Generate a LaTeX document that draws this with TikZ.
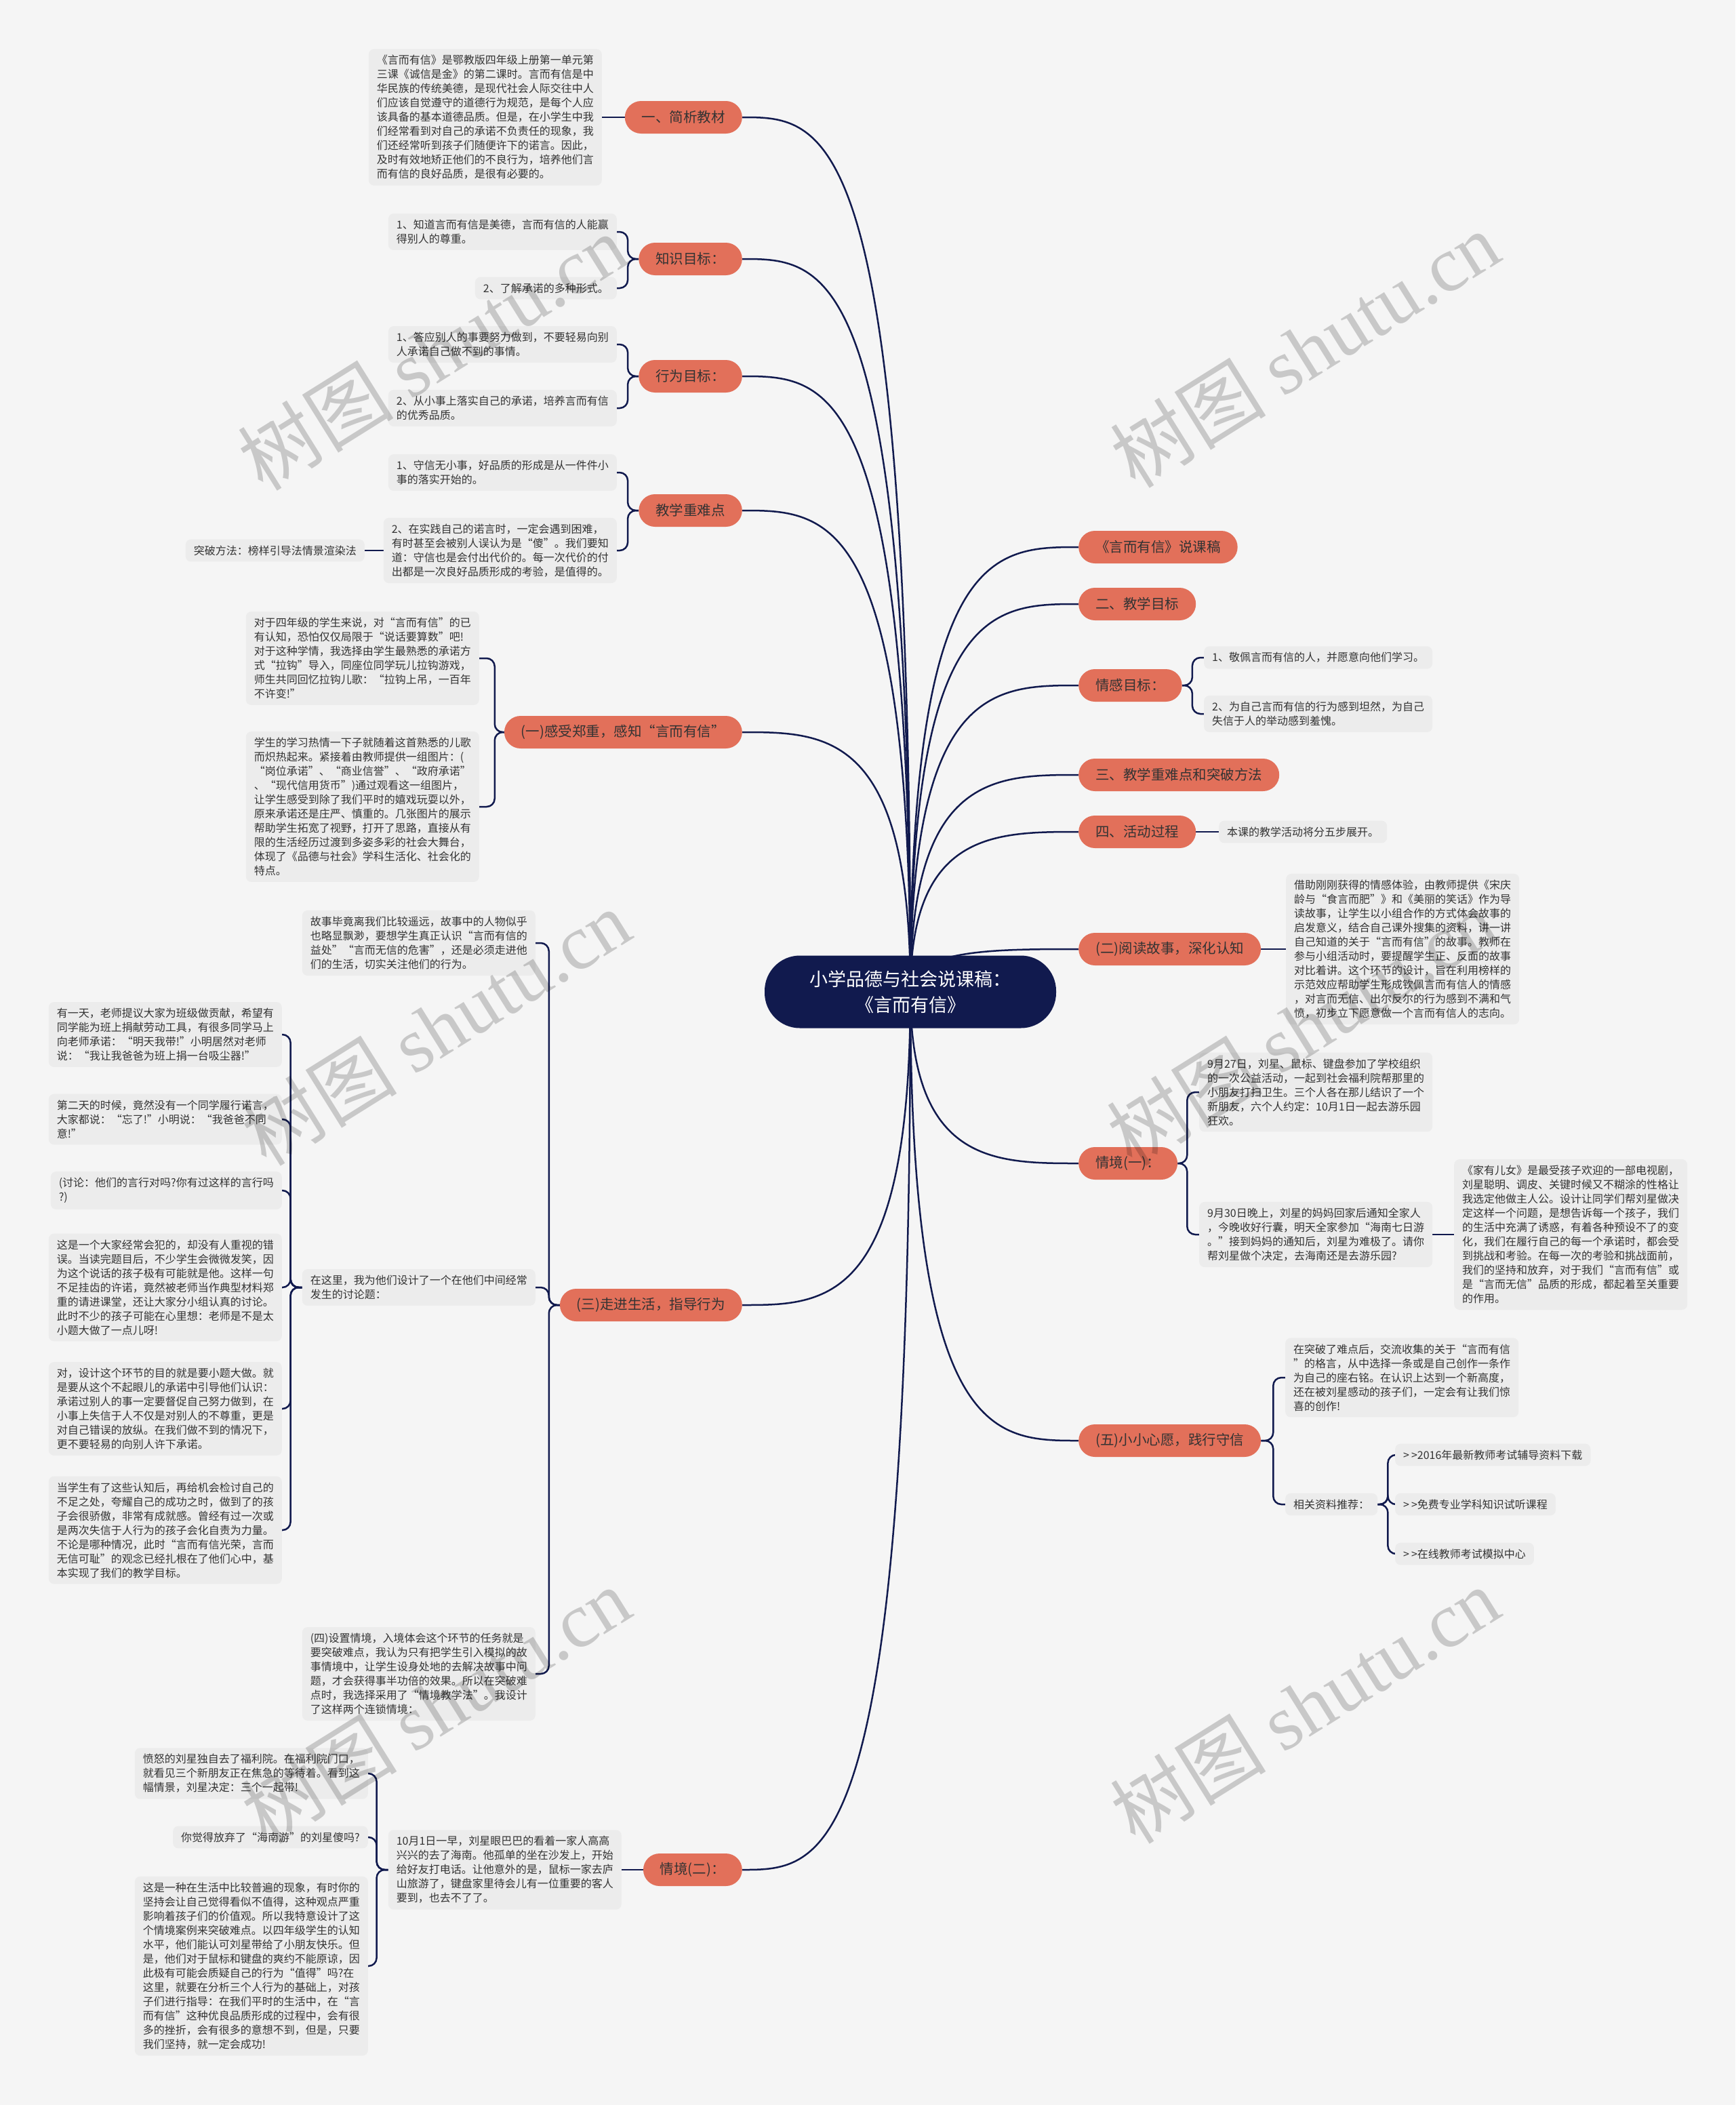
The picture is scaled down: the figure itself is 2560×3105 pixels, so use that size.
\documentclass[tikz,border=0pt]{standalone}
\usepackage{fontspec}
\setmainfont{Noto Sans CJK SC}
\newfontfamily\wmfont{Liberation Serif}
\usetikzlibrary{calc}

\definecolor{bgc}{HTML}{F5F5F5}
\definecolor{leafc}{HTML}{ECECEC}
\definecolor{navy}{HTML}{111A4E}
\definecolor{salmon}{HTML}{E2705A}
\definecolor{ink}{HTML}{333333}

\pgfdeclarelayer{bg}
\pgfsetlayers{bg,main}

\tikzset{
  leaf/.style={fill=leafc, rounded corners=8, inner xsep=12, inner ysep=9,
    align=left, text=ink, font=\fontsize{16}{21}\selectfont},
  topic/.style={fill=salmon, rounded corners=24, minimum height=48,
    inner xsep=25, text=ink, font=\fontsize{20.5}{24}\selectfont},
  hub/.style={fill=navy, rounded corners=52, minimum width=430,
    minimum height=107, align=center, text=white,
    font=\fontsize{27}{38}\selectfont},
  conn/.style={draw=navy, line width=2.5},
  fork/.style={conn, rounded corners=12},
  curvy/.style={to path={.. controls (\tikztostart |- \tikztotarget)
    and ($(\tikztotarget)!.5!(\tikztostart |- \tikztotarget)$) .. (\tikztotarget)}},
  wmark/.style={rotate=32, text=black, text opacity=0.18,
    font=\fontsize{115}{115}\selectfont}
}

\begin{document}
\begin{tikzpicture}[x=1pt, y=-1pt]
\useasboundingbox (0,0) rectangle (2560,3105);
\begin{pgfonlayer}{bg}
\fill[bgc] (0,0) rectangle (2560,3105);
\end{pgfonlayer}

\node[hub] (root) at (1343,1463) {小学品德与社会说课稿：\\《言而有信》};

\node[topic, anchor=east] (b1) at (1095,173) {一、简析教材};
\node[topic, anchor=east] (b2) at (1095,382) {知识目标：};
\node[topic, anchor=east] (b3) at (1095,555) {行为目标：};
\node[topic, anchor=east] (b4) at (1095,753) {教学重难点};
\node[topic, anchor=east] (b5) at (1095,1080) {(一)感受郑重，感知“言而有信”};
\node[topic, anchor=east] (b6) at (1095,1925) {(三)走进生活，指导行为};
\node[topic, anchor=east] (b7) at (1095,2758) {情境(二)：};

\node[topic, anchor=west] (a1) at (1591,807) {《言而有信》说课稿};
\node[topic, anchor=west] (a2) at (1591,891) {二、教学目标};
\node[topic, anchor=west] (a3) at (1591,1011) {情感目标：};
\node[topic, anchor=west] (a4) at (1591,1143) {三、教学重难点和突破方法};
\node[topic, anchor=west] (a5) at (1591,1227) {四、活动过程};
\node[topic, anchor=west] (a6) at (1591,1400) {(二)阅读故事，深化认知};
\node[topic, anchor=west] (a7) at (1591,1716) {情境(一)：};
\node[topic, anchor=west] (a8) at (1591,2125) {(五)小小心愿，践行守信};

\node[leaf, anchor=east] (t1) at (888,173) {《言而有信》是鄂教版四年级上册第一单元第\\
三课《诚信是金》的第二课时。言而有信是中\\
华民族的传统美德，是现代社会人际交往中人\\
们应该自觉遵守的道德行为规范，是每个人应\\
该具备的基本道德品质。但是，在小学生中我\\
们经常看到对自己的承诺不负责任的现象，我\\
们还经常听到孩子们随便许下的诺言。因此，\\
及时有效地矫正他们的不良行为，培养他们言\\
而有信的良好品质，是很有必要的。};

\node[leaf, anchor=east] (z1) at (910,342) {1、知道言而有信是美德，言而有信的人能赢\\
得别人的尊重。};
\node[leaf, anchor=east] (z2) at (910,425) {2、了解承诺的多种形式。};

\node[leaf, anchor=east] (x1) at (910,508) {1、答应别人的事要努力做到，不要轻易向别\\
人承诺自己做不到的事情。};
\node[leaf, anchor=east] (x2) at (910,602) {2、从小事上落实自己的承诺，培养言而有信\\
的优秀品质。};

\node[leaf, anchor=east] (n1) at (910,697) {1、守信无小事，好品质的形成是从一件件小\\
事的落实开始的。};
\node[leaf, anchor=east] (n2) at (910,812) {2、在实践自己的诺言时，一定会遇到困难，\\
有时甚至会被别人误认为是“傻”。我们要知\\
道：守信也是会付出代价的。每一次代价的付\\
出都是一次良好品质形成的考验，是值得的。};
\node[leaf, anchor=east] (nm) at (538,812) {突破方法：榜样引导法情景渲染法};

\node[leaf, anchor=east] (g1) at (707,971) {对于四年级的学生来说，对“言而有信”的已\\
有认知，恐怕仅仅局限于“说话要算数”吧!\\
对于这种学情，我选择由学生最熟悉的承诺方\\
式“拉钩”导入，同座位同学玩儿拉钩游戏，\\
师生共同回忆拉钩儿歌：“拉钩上吊，一百年\\
不许变!”};
\node[leaf, anchor=east] (g2) at (707,1190) {学生的学习热情一下子就随着这首熟悉的儿歌\\
而炽热起来。紧接着由教师提供一组图片：(\\
“岗位承诺”、“商业信誉”、“政府承诺”\\
、“现代信用货币”)通过观看这一组图片，\\
让学生感受到除了我们平时的嬉戏玩耍以外，\\
原来承诺还是庄严、慎重的。几张图片的展示\\
帮助学生拓宽了视野，打开了思路，直接从有\\
限的生活经历过渡到多姿多彩的社会大舞台，\\
体现了《品德与社会》学科生活化、社会化的\\
特点。};

\node[leaf, anchor=east] (sa) at (790,1391) {故事毕竟离我们比较遥远，故事中的人物似乎\\
也略显飘渺，要想学生真正认识“言而有信的\\
益处”“言而无信的危害”，还是必须走进他\\
们的生活，切实关注他们的行为。};
\node[leaf, anchor=east] (sb) at (790,1899) {在这里，我为他们设计了一个在他们中间经常\\
发生的讨论题：};
\node[leaf, anchor=east] (sc) at (790,2469) {(四)设置情境，入境体会这个环节的任务就是\\
要突破难点，我认为只有把学生引入模拟的故\\
事情境中，让学生设身处地的去解决故事中问\\
题，才会获得事半功倍的效果。所以在突破难\\
点时，我选择采用了“情境教学法”。我设计\\
了这样两个连锁情境：};

\node[leaf, anchor=east] (l1) at (416,1526) {有一天，老师提议大家为班级做贡献，希望有\\
同学能为班上捐献劳动工具，有很多同学马上\\
向老师承诺：“明天我带!”小明居然对老师\\
说：“我让我爸爸为班上捐一台吸尘器!”};
\node[leaf, anchor=east] (l2) at (416,1651) {第二天的时候，竟然没有一个同学履行诺言，\\
大家都说：“忘了!”小明说：“我爸爸不同\\
意!”};
\node[leaf, anchor=east] (l3) at (416,1756) {(讨论：他们的言行对吗?你有过这样的言行吗\\
?)};
\node[leaf, anchor=east] (l4) at (416,1899) {这是一个大家经常会犯的，却没有人重视的错\\
误。当读完题目后，不少学生会微微发笑，因\\
为这个说话的孩子极有可能就是他。这样一句\\
不足挂齿的许诺，竟然被老师当作典型材料郑\\
重的请进课堂，还让大家分小组认真的讨论。\\
此时不少的孩子可能在心里想：老师是不是太\\
小题大做了一点儿呀!};
\node[leaf, anchor=east] (l5) at (416,2078) {对，设计这个环节的目的就是要小题大做。就\\
是要从这个不起眼儿的承诺中引导他们认识：\\
承诺过别人的事一定要督促自己努力做到，在\\
小事上失信于人不仅是对别人的不尊重，更是\\
对自己错误的放纵。在我们做不到的情况下，\\
更不要轻易的向别人许下承诺。};
\node[leaf, anchor=east] (l6) at (416,2257) {当学生有了这些认知后，再给机会检讨自己的\\
不足之处，夸耀自己的成功之时，做到了的孩\\
子会很骄傲，非常有成就感。曾经有过一次或\\
是两次失信于人行为的孩子会化自责为力量。\\
不论是哪种情况，此时“言而有信光荣，言而\\
无信可耻”的观念已经扎根在了他们心中，基\\
本实现了我们的教学目标。};

\node[leaf, anchor=east] (m) at (917,2758) {10月1日一早，刘星眼巴巴的看着一家人高高\\
兴兴的去了海南。他孤单的坐在沙发上，开始\\
给好友打电话。让他意外的是，鼠标一家去庐\\
山旅游了，键盘家里待会儿有一位重要的客人\\
要到，也去不了了。};
\node[leaf, anchor=east] (q1) at (543,2616) {愤怒的刘星独自去了福利院。在福利院门口，\\
就看见三个新朋友正在焦急的等待着。看到这\\
幅情景，刘星决定：三个一起带!};
\node[leaf, anchor=east] (q2) at (543,2710) {你觉得放弃了“海南游”的刘星傻吗?};
\node[leaf, anchor=east] (q3) at (543,2900) {这是一种在生活中比较普遍的现象，有时你的\\
坚持会让自己觉得看似不值得，这种观点严重\\
影响着孩子们的价值观。所以我特意设计了这\\
个情境案例来突破难点。以四年级学生的认知\\
水平，他们能认可刘星带给了小朋友快乐。但\\
是，他们对于鼠标和键盘的爽约不能原谅，因\\
此极有可能会质疑自己的行为“值得”吗?在\\
这里，就要在分析三个人行为的基础上，对孩\\
子们进行指导：在我们平时的生活中，在“言\\
而有信”这种优良品质形成的过程中，会有很\\
多的挫折，会有很多的意想不到，但是，只要\\
我们坚持，就一定会成功!};

\node[leaf, anchor=west] (e1) at (1776,970) {1、敬佩言而有信的人，并愿意向他们学习。};
\node[leaf, anchor=west] (e2) at (1776,1053) {2、为自己言而有信的行为感到坦然，为自己\\
失信于人的举动感到羞愧。};
\node[leaf, anchor=west] (h1) at (1798,1227) {本课的教学活动将分五步展开。};

\node[leaf, anchor=west] (r1) at (1897,1400) {借助刚刚获得的情感体验，由教师提供《宋庆\\
龄与“食言而肥”》和《美丽的笑话》作为导\\
读故事，让学生以小组合作的方式体会故事的\\
启发意义，结合自己课外搜集的资料，讲一讲\\
自己知道的关于“言而有信”的故事。教师在\\
参与小组活动时，要提醒学生正、反面的故事\\
对比着讲。这个环节的设计，旨在利用榜样的\\
示范效应帮助学生形成钦佩言而有信人的情感\\
，对言而无信、出尔反尔的行为感到不满和气\\
愤，初步立下愿意做一个言而有信人的志向。};

\node[leaf, anchor=west] (c1) at (1769,1611) {9月27日，刘星、鼠标、键盘参加了学校组织\\
的一次公益活动，一起到社会福利院帮那里的\\
小朋友打扫卫生。三个人各在那儿结识了一个\\
新朋友，六个人约定：10月1日一起去游乐园\\
狂欢。};
\node[leaf, anchor=west] (c2) at (1769,1821) {9月30日晚上，刘星的妈妈回家后通知全家人\\
，今晚收好行囊，明天全家参加“海南七日游\\
。”接到妈妈的通知后，刘星为难极了。请你\\
帮刘星做个决定，去海南还是去游乐园?};
\node[leaf, anchor=west] (c3) at (2145,1821) {《家有儿女》是最受孩子欢迎的一部电视剧，\\
刘星聪明、调皮、关键时候又不糊涂的性格让\\
我选定他做主人公。设计让同学们帮刘星做决\\
定这样一个问题，是想告诉每一个孩子，我们\\
的生活中充满了诱惑，有着各种预设不了的变\\
化，我们在履行自己的每一个承诺时，都会受\\
到挑战和考验。在每一次的考验和挑战面前，\\
我们的坚持和放弃，对于我们“言而有信”或\\
是“言而无信”品质的形成，都起着至关重要\\
的作用。};

\node[leaf, anchor=west] (f1) at (1896,2032) {在突破了难点后，交流收集的关于“言而有信\\
”的格言，从中选择一条或是自己创作一条作\\
为自己的座右铭。在认识上达到一个新高度，\\
还在被刘星感动的孩子们，一定会有让我们惊\\
喜的创作!};
\node[leaf, anchor=west] (f2) at (1896,2219) {相关资料推荐：};
\node[leaf, anchor=west] (k1) at (2058,2146) {>\kern3pt>2016年最新教师考试辅导资料下载};
\node[leaf, anchor=west] (k2) at (2058,2219) {>\kern3pt>免费专业学科知识试听课程};
\node[leaf, anchor=west] (k3) at (2058,2292) {>\kern3pt>在线教师考试模拟中心};

\begin{pgfonlayer}{bg}
\foreach \b in {b1,b2,b3,b4,b5,b6,b7}
  \draw[conn] (root.center) to[curvy] (\b.east);
\foreach \a in {a1,a2,a3,a4,a5,a6,a7,a8}
  \draw[conn] (root.center) to[curvy] (\a.west);

\draw[conn] (b1.west) -- (t1.east);
\draw[fork] (b2.west) -- ++(-16,0) |- (z1.east);
\draw[fork] (b2.west) -- ++(-16,0) |- (z2.east);
\draw[fork] (b3.west) -- ++(-16,0) |- (x1.east);
\draw[fork] (b3.west) -- ++(-16,0) |- (x2.east);
\draw[fork] (b4.west) -- ++(-16,0) |- (n1.east);
\draw[fork] (b4.west) -- ++(-16,0) |- (n2.east);
\draw[conn] (n2.west) -- (nm.east);
\draw[fork] (b5.west) -- ++(-14,0) |- (g1.east);
\draw[fork] (b5.west) -- ++(-14,0) |- (g2.east);
\draw[fork] (b6.west) -- ++(-16,0) |- (sa.east);
\draw[fork] (b6.west) -- ++(-16,0) |- (sb.east);
\draw[fork] (b6.west) -- ++(-16,0) |- (sc.east);
\foreach \l in {l1,l2,l3,l4,l5,l6}
  \draw[fork] (sb.west) -- ++(-17,0) |- (\l.east);
\draw[conn] (b7.west) -- (m.east);
\foreach \q in {q1,q2,q3}
  \draw[fork] (m.west) -- ++(-17,0) |- (\q.east);

\draw[fork] (a3.east) -- ++(15,0) |- (e1.west);
\draw[fork] (a3.east) -- ++(15,0) |- (e2.west);
\draw[conn] (a5.east) -- (h1.west);
\draw[conn] (a6.east) -- (r1.west);
\draw[fork] (a7.east) -- ++(14,0) |- (c1.west);
\draw[fork] (a7.east) -- ++(14,0) |- (c2.west);
\draw[conn] (c2.east) -- (c3.west);
\draw[fork] (a8.east) -- ++(18,0) |- (f1.west);
\draw[fork] (a8.east) -- ++(18,0) |- (f2.west);
\foreach \k in {k1,k2,k3}
  \draw[fork] (f2.east) -- ++(15,0) |- (\k.west);
\end{pgfonlayer}

\node[wmark] (w1) at (638,519) {树图 {\wmfont shutu.cn}};
\node[wmark] (w2) at (1925,515) {树图 {\wmfont shutu.cn}};
\node[wmark] (w3) at (643,1515) {树图 {\wmfont shutu.cn}};
\node[wmark] (w4) at (1920,1515) {树图 {\wmfont shutu.cn}};
\node[wmark] (w5) at (643,2515) {树图 {\wmfont shutu.cn}};
\node[wmark] (w6) at (1925,2515) {树图 {\wmfont shutu.cn}};
\end{tikzpicture}
\end{document}
